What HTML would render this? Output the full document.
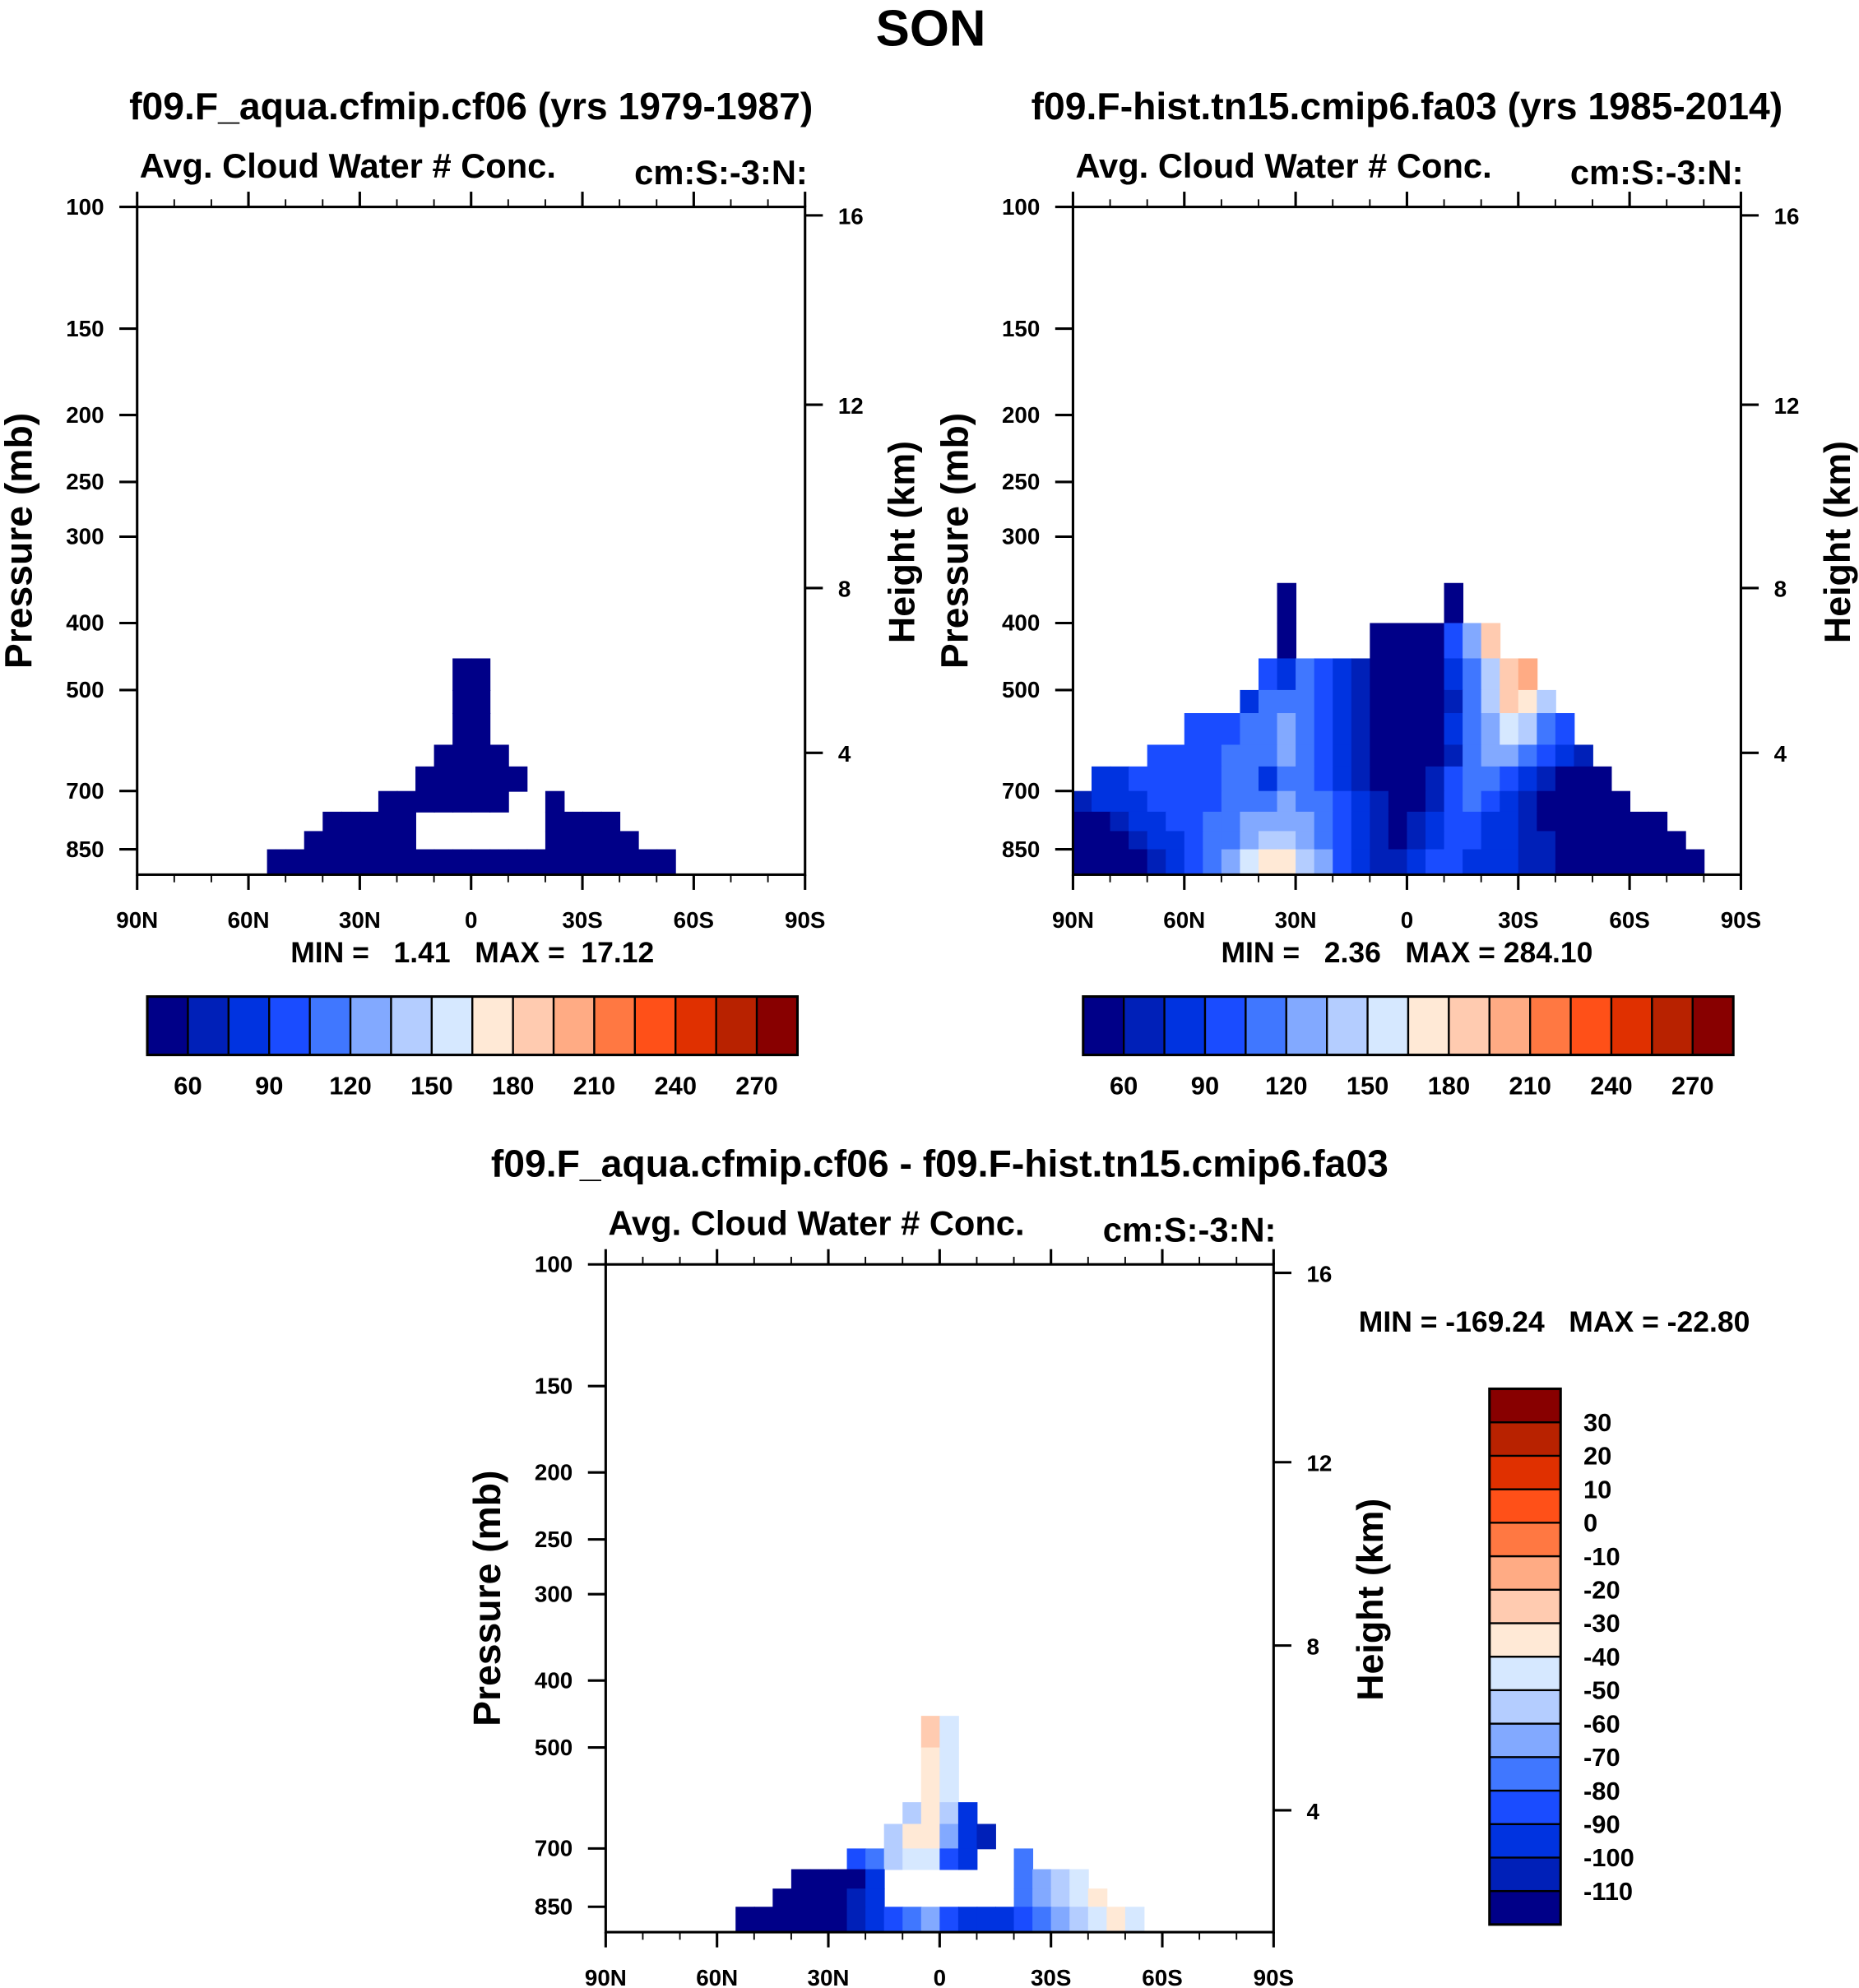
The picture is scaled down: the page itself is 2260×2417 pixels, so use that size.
<!DOCTYPE html>
<html><head><meta charset="utf-8"><title>SON Cloud Water</title>
<style>
html,body{margin:0;padding:0;background:#fff;}
svg{display:block;}
text{font-family:"Liberation Sans",Arial,sans-serif;font-weight:bold;fill:#000;white-space:pre;}
</style></head>
<body>
<svg id="fig" xmlns="http://www.w3.org/2000/svg" width="2260" height="2417" viewBox="0 0 1464 1566" preserveAspectRatio="none">
<rect x="0" y="0" width="1464" height="1566" fill="#fff"/>
<text x="733" y="36" font-size="40" text-anchor="middle">SON</text>
</svg>
<script>
// ---- shared data ----
const colors=["#000088","#0020b8","#0033e0","#1a4cff","#4077ff","#82a9ff","#b4cdff","#d6e8ff","#ffe9d6","#ffcbb0","#ffab84","#ff7842","#ff5018","#e03000","#b82200","#880000"];
const levelsTop=[60,75,90,105,120,135,150,165,180,195,210,225,240,255,270];
const levelsDiff=[-110,-100,-90,-80,-70,-60,-50,-40,-30,-20,-10,0,10,20,30];
const cbTopLabels=["60","90","120","150","180","210","240","270"];
const cbDiffLabels=["30","20","10","0","-10","-20","-30","-40","-50","-60","-70","-80","-90","-100","-110"];
const pressureTicks=[100,150,200,250,300,400,500,700,850];
const heightTicks=[4,8,12,16];
const latTicks=[90,60,30,0,-30,-60,-90];
const latTickLabels=["90N","60N","30N","0","30S","60S","90S"];
const levelEdges=[350,400,450,500,540,600,645,700,750,800,850,925];
const N=null;
// panel 1 (cf06)
const p1Start=[0,0,17,17,17,16,15,13,10,9,7];
const p1Vals=[[],[],
[9,12],[10,14],[11,15],[8,12,13,9],[7,10,14,15,11,8],
[6,9,12,15,16,11,8,N,N,9],
[5,8,11,13,15,N,N,N,N,N,N,N,12,10,8,6],
[3,6,9,12,14,17,N,N,N,N,N,N,N,13,11,8,5,3],
[2,4,6,9,11,13,15,16,16,15,14,14,15,16,16,14,12,10,8,6,4,2]];
// panel 2 (cmip6)
const p2Start=[11,11,10,9,6,4,1,0,0,0,0];
const p2Vals=[
[30,N,N,N,N,N,N,N,N,30],
[30,N,N,N,N,30,30,30,30,97,127,187],
[97,82,112,97,82,67,30,30,30,30,82,112,142,187,202],
[82,112,112,112,97,82,67,30,30,30,30,67,112,142,187,172,142],
[97,97,97,112,112,127,112,97,82,67,30,30,30,30,82,112,127,157,142,112,97],
[97,97,97,97,112,112,112,127,112,97,82,67,30,30,30,30,67,112,127,127,112,97,82,67],
[82,82,97,97,97,97,97,112,112,82,112,112,97,82,67,30,30,30,67,97,112,112,97,82,67,30,30,30],
[67,82,82,82,97,97,97,97,112,112,112,127,112,112,97,82,67,30,30,67,97,112,97,82,67,30,30,30,30,30],
[30,30,67,82,82,97,97,112,112,127,127,127,127,112,97,82,67,30,67,82,97,97,82,82,67,30,30,30,30,30,30,30],
[30,30,30,67,82,82,97,112,112,127,142,142,127,112,97,82,67,30,67,82,97,97,82,82,67,67,30,30,30,30,30,30,30],
[30,30,30,30,67,82,97,112,127,157,172,172,142,127,97,82,67,67,82,97,97,82,82,82,67,67,30,30,30,30,30,30,30,30]];
// panel 3 (difference)
const p3Start=[0,0,17,17,17,16,15,13,10,9,7];
const p3Vals=[[],[],
[-25,-45],[-35,-45],[-35,-45],[-55,-35,-55,-95],[-55,-35,-35,-65,-95,-105],
[-85,-75,-55,-45,-45,-85,-95,N,N,-75],
[-130,-130,-130,-115,-95,N,N,N,N,N,N,N,-75,-65,-55,-45],
[-130,-130,-130,-130,-105,-95,N,N,N,N,N,N,N,-75,-65,-55,-45,-35],
[-130,-130,-130,-130,-130,-120,-105,-95,-85,-75,-65,-85,-95,-95,-95,-85,-75,-65,-55,-45,-35,-45]];

const svg=document.getElementById('fig');
const NS="http://www.w3.org/2000/svg";
function mk(tag,attrs,parent){const e=document.createElementNS(NS,tag);for(const k in attrs)e.setAttribute(k,attrs[k]);(parent||svg).appendChild(e);return e;}
function txt(s,x,y,size,anchor,parent){const t=mk('text',{x:x,y:y,'font-size':size,'text-anchor':anchor||'start'},parent);t.textContent=s;return t;}
function colorFor(v,levels){let k=0;for(const l of levels){if(v>=l)k++;}return colors[k];}
function pOfZ(zkm){const z=zkm*1000;if(z<=11000)return 1013.25*Math.pow(1-2.2558e-5*z,5.256);return 226.3*Math.exp(-(z-11000)/6341.6);}

function panel(opt){
  const g=mk('g',{});
  
  
  const L=opt.x0,T=opt.y0,W=526,H=526;
  const xs=lat=>L+(90-lat)/180*W;
  const ys=p=>T+Math.log10(p/100)/Math.log10(9.25)*H;
  for(let r=0;r<opt.vals.length;r++){
    const row=opt.vals[r];
    for(let i=0;i<row.length;i++){
      const v=row[i]; if(v===null)continue;
      const c=opt.start[r]+i;
      const lat1=90-5*c, lat2=85-5*c;
      const x1=xs(lat1),x2=xs(Math.max(lat2,-90));
      const y1=ys(levelEdges[r]),y2=ys(levelEdges[r+1]);
      const rc=mk('rect',{x:x1.toFixed(2),y:y1.toFixed(2),width:(x2-x1+0.6).toFixed(2),height:(Math.min(y2,T+H)-y1+0.6).toFixed(2),fill:colorFor(v,opt.levels)},g);
      
      
    }
  }
  const fr=mk('rect',{x:L,y:T,width:W,height:H,fill:'none',stroke:'#000','stroke-width':2},g);
  
  
  for(let lat=90;lat>=-90;lat-=10){
    const x=xs(lat),maj=(lat%30===0);const len=maj?12:6;
    mk('line',{x1:x,y1:T+H,x2:x,y2:T+H+len,stroke:'#000','stroke-width':maj?2:1.2},g);
    mk('line',{x1:x,y1:T,x2:x,y2:T-len,stroke:'#000','stroke-width':maj?2:1.2},g);
  }
  latTicks.forEach((lat,i)=>{const t=txt(latTickLabels[i],xs(lat),T+H+42,18,'middle',g);
    
    });
  pressureTicks.forEach(p=>{const y=ys(p);
    mk('line',{x1:L-14,y1:y,x2:L,y2:y,stroke:'#000','stroke-width':2},g);
    const t=txt(String(p),L-26,y+6,18,'end',g);
    
    });
  heightTicks.forEach(z=>{const y=ys(pOfZ(z));
    mk('line',{x1:L+W,y1:y,x2:L+W+14,y2:y,stroke:'#000','stroke-width':2},g);
    const t=txt(String(z),L+W+26,y+7,18,'start',g);
    
    });
  let t=txt(opt.title,L+W/2,T-69,30,'middle',g);
  
  
  t=txt('Avg. Cloud Water # Conc.',L+2,T-23,27,'start',g);
  
  
  t=txt('cm:S:-3:N:',L+W+2,T-18,27,'end',g);
  
  
  t=txt('Pressure (mb)',0,0,30,'middle',g);
  t.setAttribute('transform','translate('+(L-83)+','+(T+263)+') rotate(-90)');
  
  
  t=txt('Height (km)',0,0,29,'middle',g);
  t.setAttribute('transform','translate('+(L+W+86)+','+(T+264)+') rotate(-90)');
  
  
  return g;
}
function hColorbar(x0,y0,name,minmax,cx){
  const g=mk('g',{});
  
  
  const bw=32;
  colors.forEach((c,i)=>{const r=mk('rect',{x:x0+i*bw,y:y0,width:bw,height:46,fill:c,stroke:'#000','stroke-width':1.5},g);
    
    });
  mk('rect',{x:x0,y:y0,width:bw*16,height:46,fill:'none',stroke:'#000','stroke-width':2},g);
  cbTopLabels.forEach((s,i)=>{const t=txt(s,x0+bw*(1+2*i),y0+77,20,'middle',g);
    
    });
  const t=txt(minmax,cx,y0-27,23,'middle',g);
  
  
}
panel({name:'panel-cf06',x0:108,y0:163,title:'f09.F_aqua.cfmip.cf06 (yrs 1979-1987)',start:p1Start,vals:p1Vals,levels:levelsTop});
hColorbar(116,785,'colorbar-cf06','MIN =   1.41   MAX =  17.12',372);
panel({name:'panel-cmip6',x0:845,y0:163,title:'f09.F-hist.tn15.cmip6.fa03 (yrs 1985-2014)',start:p2Start,vals:p2Vals,levels:levelsTop});
hColorbar(853,785,'colorbar-cmip6','MIN =   2.36   MAX = 284.10',1108);
panel({name:'panel-diff',x0:477,y0:996,title:'f09.F_aqua.cfmip.cf06 - f09.F-hist.tn15.cmip6.fa03',start:p3Start,vals:p3Vals,levels:levelsDiff});
(function(){
  const g=mk('g',{});
  
  
  const x0=1173,y0=1094,bh=422/16;
  colors.forEach((c,i)=>{const r=mk('rect',{x:x0,y:y0+(15-i)*bh,width:56,height:bh,fill:c,stroke:'#000','stroke-width':1.5},g);
    
    });
  mk('rect',{x:x0,y:y0,width:56,height:422,fill:'none',stroke:'#000','stroke-width':2},g);
  cbDiffLabels.forEach((s,i)=>{const t=txt(s,1247,y0+bh*(i+1)+7,20,'start',g);
    
    });
  const t=txt('MIN = -169.24   MAX = -22.80',1070,1049,23,'start',g);
  
  
})();
</script>
</body></html>
